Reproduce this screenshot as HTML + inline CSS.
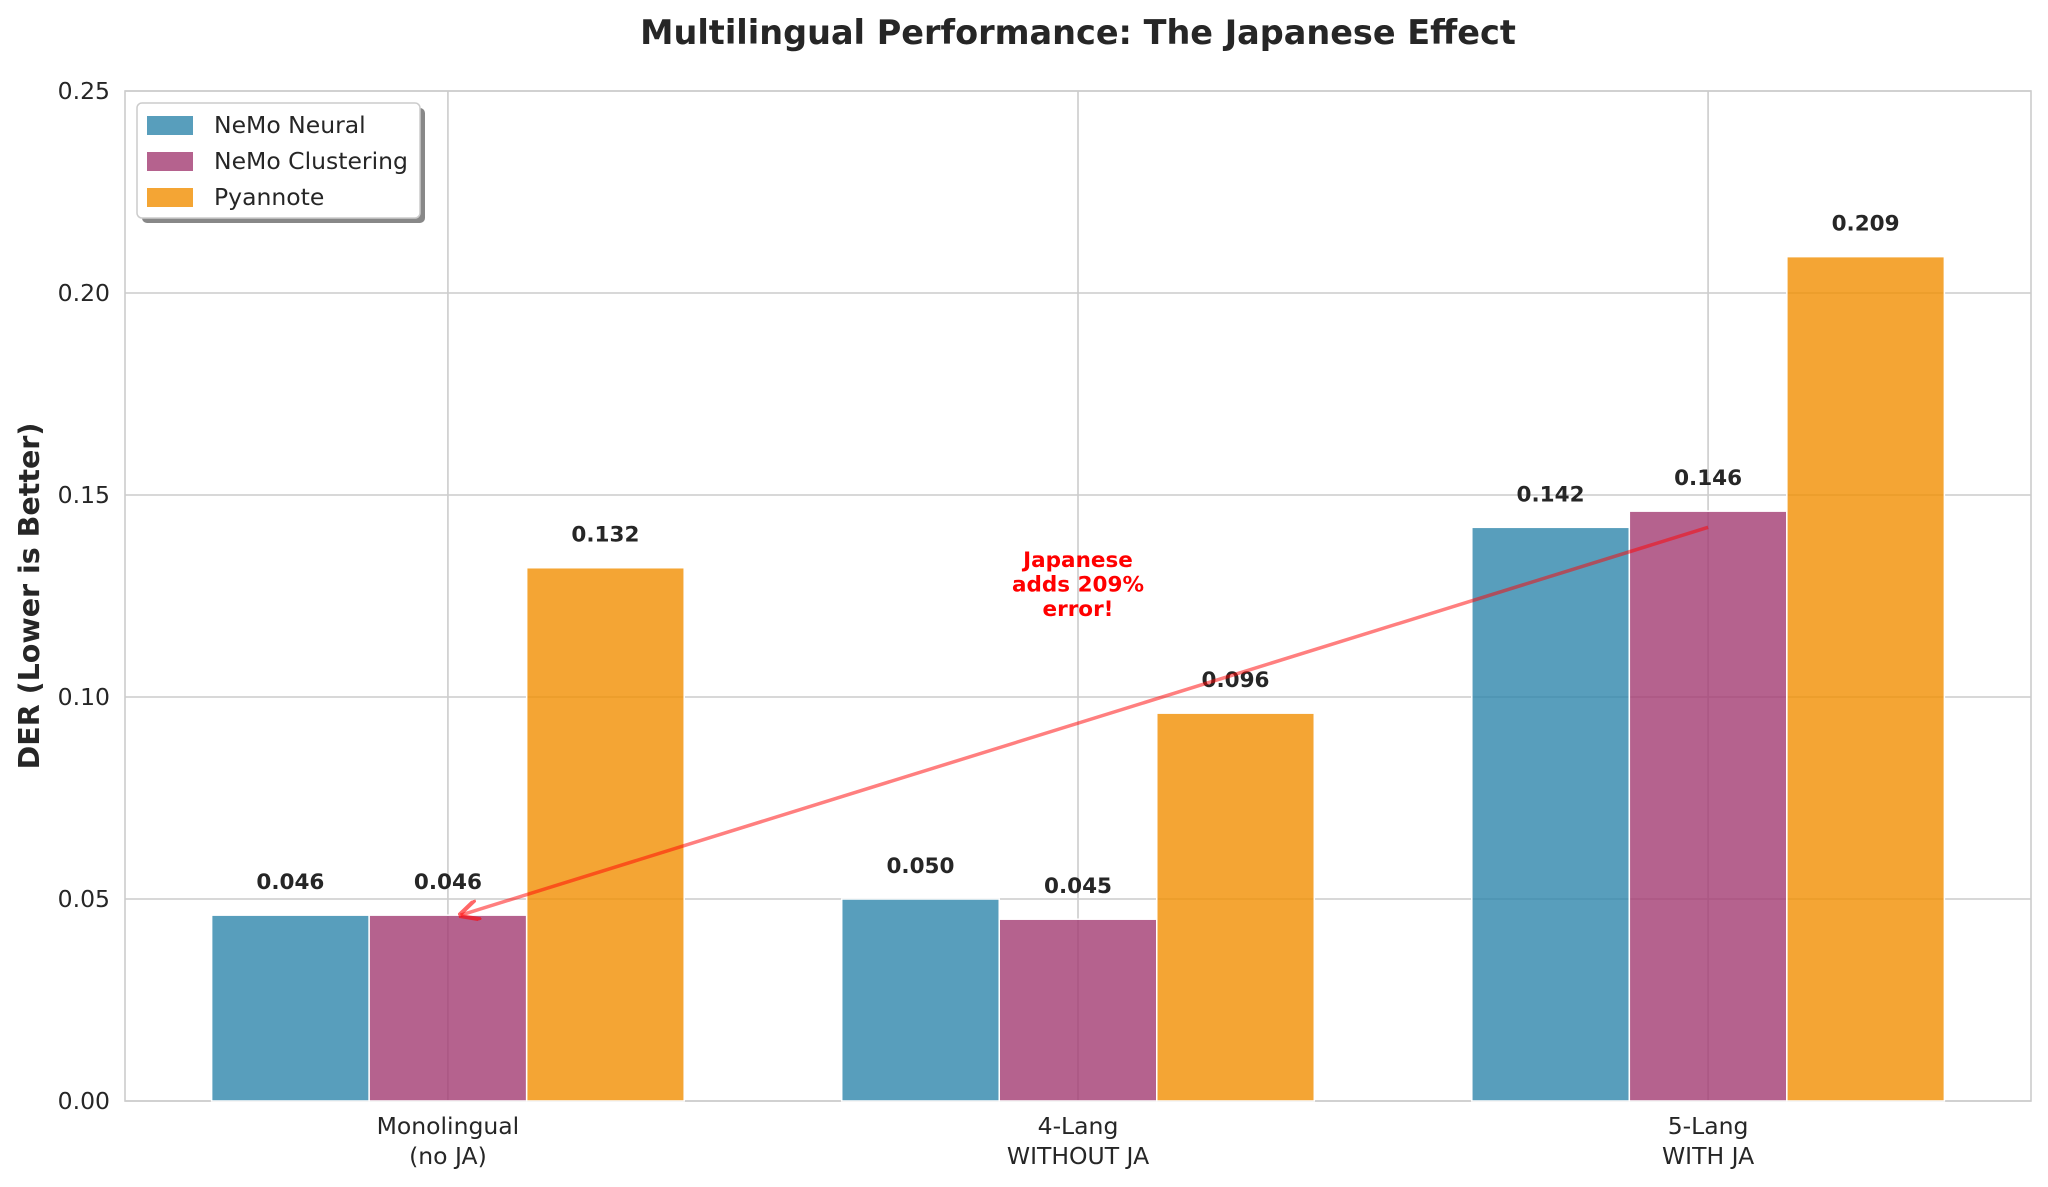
<!DOCTYPE html>
<html><head><meta charset="utf-8"><style>
html,body{margin:0;padding:0;background:#fff}
svg{display:block;font-family:"DejaVu Sans","Liberation Sans",sans-serif}
</style></head><body>
<svg id="chart" width="2048" height="1187" viewBox="0 0 2048 1187" xmlns="http://www.w3.org/2000/svg">
<defs><marker id="ah" viewBox="0 0 10 10" refX="9" refY="5" markerWidth="6" markerHeight="6" orient="auto-start-reverse"><path d="M0,0 L10,5 L0,10" fill="none" stroke="#ff0000" stroke-opacity="0.6" stroke-width="2"/></marker></defs>
<text x="1078" y="44" text-anchor="middle" font-size="33.5" font-weight="bold" fill="#262626">Multilingual Performance: The Japanese Effect</text>
<g id="grid"></g><g id="bars"></g><g id="labels"></g><g id="ann"></g>
<text transform="translate(39,596) rotate(-90)" text-anchor="middle" font-size="28.5" font-weight="bold" fill="#262626">DER (Lower is Better)</text>
<g>
<rect x="142" y="108" width="283" height="115" rx="5" fill="#888"/>
<rect x="137" y="103" width="283" height="115" rx="5" fill="#fff" stroke="#ccc" stroke-width="1.5"/>
<rect x="147" y="116" width="46" height="19" fill="#2E86AB" fill-opacity="0.8"/>
<text x="214" y="133" font-size="23.5" fill="#262626">NeMo Neural</text>
<rect x="147" y="152" width="46" height="19" fill="#A23B72" fill-opacity="0.8"/>
<text x="214" y="169" font-size="23.5" fill="#262626">NeMo Clustering</text>
<rect x="147" y="188" width="46" height="19" fill="#F18F01" fill-opacity="0.8"/>
<text x="214" y="205" font-size="23.5" fill="#262626">Pyannote</text>
</g>
</svg>
<script>
const categories = [["Monolingual","(no JA)"],["4-Lang","WITHOUT JA"],["5-Lang","WITH JA"]];
const seriesNames = ["NeMo Neural","NeMo Clustering","Pyannote"];
const neural = [0.046,0.050,0.142];
const clustering = [0.046,0.045,0.146];
const pyannote = [0.132,0.096,0.209];
const yTicks = [0,0.05,0.10,0.15,0.20,0.25];
const yTickLabels = ["0.00","0.05","0.10","0.15","0.20","0.25"];
const arrowFrom = [2,0.142];
const arrowTo = [0.02,0.046];
const noteAt = [1,0.1275];

const NS="http://www.w3.org/2000/svg";
const L=125,R=2031,T=91,B=1101;
const xmin=-0.5125,xmax=2.5125,ymax=0.25;
const X=v=>L+(v-xmin)/(xmax-xmin)*(R-L);
const Y=v=>B-v/ymax*(B-T);
const bw=0.25;
function mk(tag,attrs,parent,txt){const e=document.createElementNS(NS,tag);for(const k in attrs)e.setAttribute(k,attrs[k]);if(txt!==undefined)e.textContent=txt;parent.appendChild(e);return e;}
const grid=document.getElementById('grid'),bars=document.getElementById('bars'),labels=document.getElementById('labels'),ann=document.getElementById('ann');
yTicks.forEach((t,i)=>{
  const g=mk('line',{x1:L,x2:R,y1:Y(t),y2:Y(t),stroke:'#cccccc','stroke-width':1.6},grid);
  
  
  const tx=mk('text',{x:110,y:Y(t)+8,'text-anchor':'end','font-size':23.5,fill:'#262626'},labels,yTickLabels[i]);
  
  
});
categories.forEach((c,i)=>{
  const g=mk('line',{x1:X(i),x2:X(i),y1:T,y2:B,stroke:'#cccccc','stroke-width':1.6},grid);
  
  
  c.forEach((line,j)=>{
    const tx=mk('text',{x:X(i),y:1134+j*30,'text-anchor':'middle','font-size':23.5,fill:'#262626'},labels,line);
    
    
  });
});
mk('rect',{x:L,y:T,width:R-L,height:B-T,fill:'none',stroke:'#cccccc','stroke-width':1.6},grid);
const series=[neural,clustering,pyannote],colors=['#2E86AB','#A23B72','#F18F01'];
series.forEach((vals,s)=>{
  vals.forEach((v,i)=>{
    const xc=i+(s-1)*bw;
    const r=mk('rect',{x:X(xc-bw/2),y:Y(v),width:X(xc+bw/2)-X(xc-bw/2),height:B-Y(v),fill:colors[s],'fill-opacity':0.8,stroke:'#fff','stroke-width':1.5},bars);
    
    
    const t=mk('text',{x:X(xc),y:Y(v)-26,'text-anchor':'middle','font-size':21.5,'font-weight':'bold',fill:'#262626'},labels,v.toFixed(3));
    
    
  });
});
const a=mk('line',{x1:X(arrowFrom[0]),y1:Y(arrowFrom[1]),x2:X(arrowTo[0]),y2:Y(arrowTo[1]),stroke:'#ff0000','stroke-opacity':0.5,'stroke-width':3.5,'marker-end':'url(#ah)'},ann);


["Japanese","adds 209%","error!"].forEach((s,j)=>{
  const t=mk('text',{x:X(noteAt[0]),y:Y(noteAt[1])-19+j*24.5,'text-anchor':'middle','font-size':21.5,'font-weight':'bold',fill:'#ff0000'},ann,s);
  
  
});
</script>
</body></html>
